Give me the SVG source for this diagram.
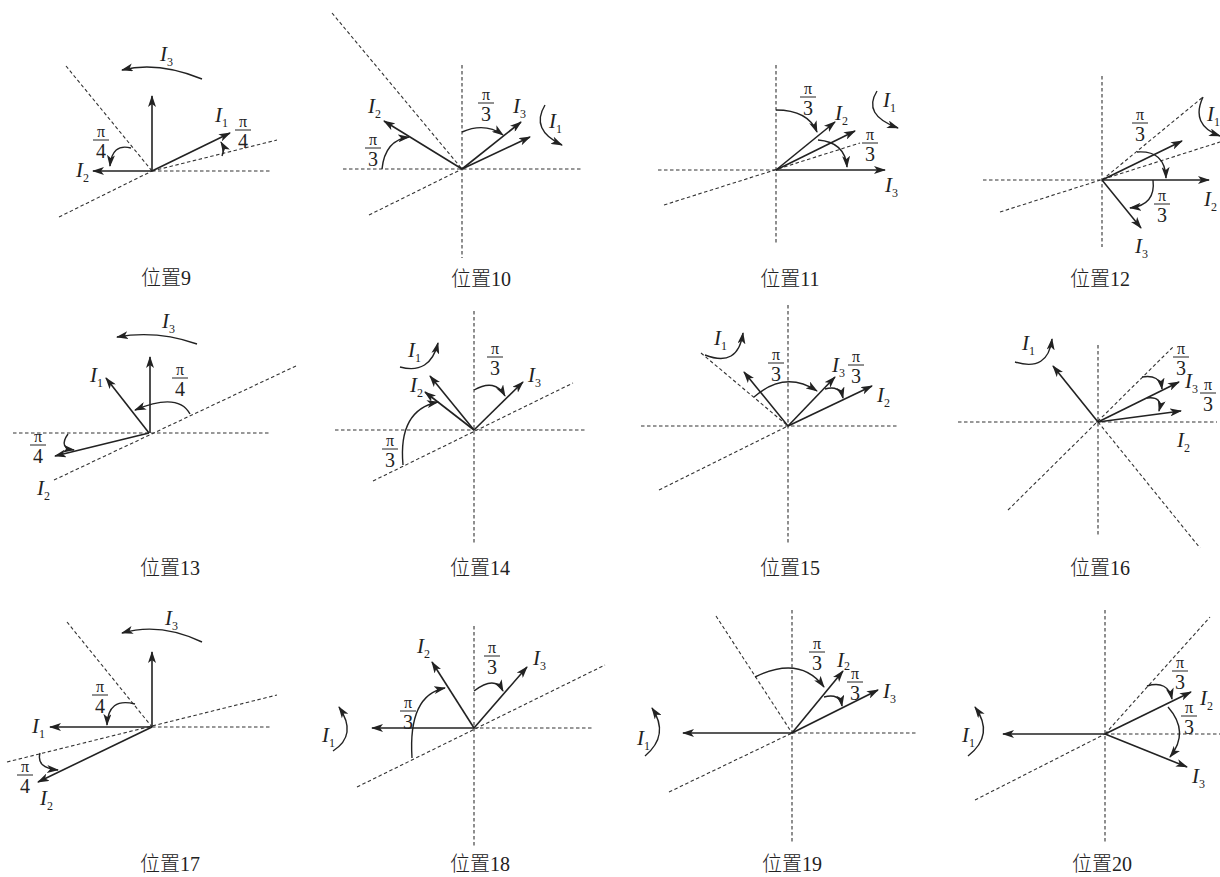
<svg xmlns="http://www.w3.org/2000/svg" width="1220" height="877" viewBox="0 0 1220 877">
<defs>
<marker id="ah" viewBox="0 0 12 8" markerWidth="12" markerHeight="8" refX="11" refY="4" orient="auto" markerUnits="userSpaceOnUse">
<path d="M0,0 L12,4 L0,8 L3,4 z" fill="#222"/>
</marker>
<style>
.d{stroke:#333;stroke-width:1.1;stroke-dasharray:3.5 2.5;fill:none}
.a{stroke:#222;stroke-width:1.6;fill:none;marker-end:url(#ah)}
.c{stroke:#222;stroke-width:1.4;fill:none;marker-end:url(#ah)}
.lb{font-family:"Liberation Serif",serif;font-style:italic;font-size:21px;fill:#222}
.sb{font-style:normal;font-size:12px}
.pi{font-family:"Liberation Serif",serif;font-size:16px;fill:#222;text-anchor:middle}
.nm{font-family:"Liberation Serif",serif;font-size:20px;fill:#222;text-anchor:middle}
.br{stroke:#222;stroke-width:1}
.cap{font-family:"Liberation Serif","Noto Sans CJK SC",serif;font-size:20px;font-weight:300;fill:#222;text-anchor:middle}
</style>
</defs>
<rect width="1220" height="877" fill="#fff"/>

<g id="p9">
<line class="d" x1="66" y1="66" x2="152" y2="171"/>
<line class="d" x1="152" y1="171" x2="271" y2="171"/>
<line class="d" x1="59" y1="217" x2="152" y2="171"/>
<line class="d" x1="152" y1="171" x2="277" y2="140"/>
<line class="a" x1="152" y1="171" x2="152" y2="96"/>
<line class="a" x1="152" y1="171" x2="230" y2="133"/>
<line class="a" x1="152" y1="171" x2="93" y2="171"/>
<path class="c" d="M202,79 Q158,61 122,70"/>
<path class="c" d="M131,148 Q112,143 110,166"/>
<path class="c" d="M222,156 Q225,149 221,142"/>
<text class="lb" x="160" y="61">I<tspan class="sb" dy="5">3</tspan></text>
<text class="lb" x="215" y="122">I<tspan class="sb" dy="5">1</tspan></text>
<text class="lb" x="76" y="177">I<tspan class="sb" dy="5">2</tspan></text>
<text class="pi" x="243" y="127">π</text><line class="br" x1="235" y1="130" x2="251" y2="130"/><text class="nm" x="243" y="148">4</text>
<text class="pi" x="101" y="137">π</text><line class="br" x1="93" y1="140" x2="109" y2="140"/><text class="nm" x="101" y="158">4</text>
<text class="cap" x="166" y="285">位置9</text>
</g>

<g id="p10">
<line class="d" x1="462" y1="65" x2="462" y2="258"/>
<line class="d" x1="343" y1="169" x2="582" y2="169"/>
<line class="d" x1="332" y1="13" x2="462" y2="169"/>
<line class="d" x1="369" y1="215" x2="462" y2="169"/>
<line class="a" x1="462" y1="169" x2="384" y2="121"/>
<line class="a" x1="462" y1="169" x2="521" y2="122"/>
<line class="a" x1="462" y1="169" x2="530" y2="137"/>
<path class="c" d="M382,169 Q385,140 409,137"/>
<path class="c" d="M462,132 Q485,122 503,135"/>
<path class="c" d="M545,105 Q530,130 562,145"/>
<text class="lb" x="368" y="113">I<tspan class="sb" dy="5">2</tspan></text>
<text class="lb" x="513" y="113">I<tspan class="sb" dy="5">3</tspan></text>
<text class="lb" x="549" y="128">I<tspan class="sb" dy="5">1</tspan></text>
<text class="pi" x="373" y="145">π</text><line class="br" x1="365" y1="148" x2="381" y2="148"/><text class="nm" x="373" y="166">3</text>
<text class="pi" x="486" y="100">π</text><line class="br" x1="478" y1="103" x2="494" y2="103"/><text class="nm" x="486" y="121">3</text>
<text class="cap" x="481" y="286">位置10</text>
</g>

<g id="p11">
<line class="d" x1="776" y1="65" x2="776" y2="245"/>
<line class="d" x1="658" y1="170" x2="776" y2="170"/>
<line class="d" x1="664" y1="205" x2="860" y2="143"/>
<line class="a" x1="776" y1="170" x2="835" y2="122"/>
<line class="a" x1="776" y1="170" x2="855" y2="131"/>
<line class="a" x1="776" y1="170" x2="885" y2="170"/>
<path class="c" d="M776,110 Q808,110 817,132"/>
<path class="c" d="M818,140 Q845,142 847,167"/>
<path class="c" d="M877,91 Q862,115 898,128"/>
<text class="lb" x="835" y="120">I<tspan class="sb" dy="5">2</tspan></text>
<text class="lb" x="883" y="107">I<tspan class="sb" dy="5">1</tspan></text>
<text class="lb" x="885" y="192">I<tspan class="sb" dy="5">3</tspan></text>
<text class="pi" x="808" y="94">π</text><line class="br" x1="800" y1="97" x2="816" y2="97"/><text class="nm" x="808" y="115">3</text>
<text class="pi" x="870" y="140">π</text><line class="br" x1="862" y1="143" x2="878" y2="143"/><text class="nm" x="870" y="161">3</text>
<text class="cap" x="790" y="286">位置11</text>
</g>

<g id="p12">
<line class="d" x1="1102" y1="76" x2="1102" y2="247"/>
<line class="d" x1="983" y1="180" x2="1102" y2="180"/>
<line class="d" x1="1000" y1="212" x2="1220" y2="142"/>
<line class="d" x1="1102" y1="180" x2="1203" y2="97"/>
<line class="a" x1="1102" y1="180" x2="1182" y2="141"/>
<line class="a" x1="1102" y1="180" x2="1209" y2="180"/>
<line class="a" x1="1102" y1="180" x2="1141" y2="228"/>
<path class="c" d="M1137,152 Q1165,150 1166,178"/>
<path class="c" d="M1153,180 Q1156,205 1130,208"/>
<path class="c" d="M1203,97 Q1190,125 1220,136"/>
<text class="lb" x="1207" y="121">I<tspan class="sb" dy="5">1</tspan></text>
<text class="lb" x="1204" y="206">I<tspan class="sb" dy="5">2</tspan></text>
<text class="lb" x="1135" y="253">I<tspan class="sb" dy="5">3</tspan></text>
<text class="pi" x="1140" y="120">π</text><line class="br" x1="1132" y1="123" x2="1148" y2="123"/><text class="nm" x="1140" y="141">3</text>
<text class="pi" x="1162" y="201">π</text><line class="br" x1="1154" y1="204" x2="1170" y2="204"/><text class="nm" x="1162" y="222">3</text>
<text class="cap" x="1100" y="286">位置12</text>
</g>

<g id="p13">
<line class="d" x1="13" y1="433" x2="269" y2="433"/>
<line class="d" x1="54" y1="480" x2="298" y2="365"/>
<line class="a" x1="150" y1="433" x2="150" y2="357"/>
<line class="a" x1="149" y1="433" x2="106" y2="378"/>
<line class="a" x1="149" y1="433" x2="55" y2="456"/>
<path class="c" d="M197,344 Q157,330 117,337"/>
<path class="c" d="M190,414 Q178,392 135,410"/>
<path class="c" d="M68,434 Q58,448 74,450"/>
<text class="lb" x="162" y="328">I<tspan class="sb" dy="5">3</tspan></text>
<text class="lb" x="90" y="382">I<tspan class="sb" dy="5">1</tspan></text>
<text class="lb" x="37" y="495">I<tspan class="sb" dy="5">2</tspan></text>
<text class="pi" x="180" y="375">π</text><line class="br" x1="172" y1="378" x2="188" y2="378"/><text class="nm" x="180" y="396">4</text>
<text class="pi" x="38" y="442">π</text><line class="br" x1="30" y1="445" x2="46" y2="445"/><text class="nm" x="38" y="463">4</text>
<text class="cap" x="170" y="575">位置13</text>
</g>

<g id="p14">
<line class="d" x1="474" y1="311" x2="474" y2="543"/>
<line class="d" x1="335" y1="430" x2="587" y2="430"/>
<line class="d" x1="373" y1="481" x2="573" y2="383"/>
<line class="a" x1="474" y1="430" x2="430" y2="376"/>
<line class="a" x1="474" y1="430" x2="425" y2="392"/>
<line class="a" x1="474" y1="430" x2="523" y2="382"/>
<path class="c" d="M474,390 Q495,378 505,396"/>
<path class="c" d="M403,465 Q398,410 438,402"/>
<path class="c" d="M400,367 Q430,375 438,343"/>
<text class="lb" x="408" y="357">I<tspan class="sb" dy="5">1</tspan></text>
<text class="lb" x="410" y="392">I<tspan class="sb" dy="5">2</tspan></text>
<text class="lb" x="528" y="382">I<tspan class="sb" dy="5">3</tspan></text>
<text class="pi" x="495" y="354">π</text><line class="br" x1="487" y1="357" x2="503" y2="357"/><text class="nm" x="495" y="375">3</text>
<text class="pi" x="390" y="446">π</text><line class="br" x1="382" y1="449" x2="398" y2="449"/><text class="nm" x="390" y="467">3</text>
<text class="cap" x="480" y="575">位置14</text>
</g>

<g id="p15">
<line class="d" x1="788" y1="305" x2="788" y2="545"/>
<line class="d" x1="641" y1="426" x2="898" y2="426"/>
<line class="d" x1="701" y1="353" x2="788" y2="426"/>
<line class="d" x1="659" y1="490" x2="788" y2="426"/>
<line class="a" x1="788" y1="426" x2="744" y2="372"/>
<line class="a" x1="788" y1="426" x2="835" y2="377"/>
<line class="a" x1="788" y1="426" x2="872" y2="386"/>
<path class="c" d="M754,397 Q785,370 817,391"/>
<path class="c" d="M825,389 Q840,385 843,398"/>
<path class="c" d="M705,355 Q738,368 743,333"/>
<text class="lb" x="714" y="345">I<tspan class="sb" dy="5">1</tspan></text>
<text class="lb" x="832" y="372">I<tspan class="sb" dy="5">3</tspan></text>
<text class="lb" x="877" y="402">I<tspan class="sb" dy="5">2</tspan></text>
<text class="pi" x="776" y="360">π</text><line class="br" x1="768" y1="363" x2="784" y2="363"/><text class="nm" x="776" y="381">3</text>
<text class="pi" x="856" y="362">π</text><line class="br" x1="848" y1="365" x2="864" y2="365"/><text class="nm" x="856" y="383">3</text>
<text class="cap" x="790" y="575">位置15</text>
</g>

<g id="p16">
<line class="d" x1="1098" y1="345" x2="1098" y2="535"/>
<line class="d" x1="958" y1="422" x2="1217" y2="422"/>
<line class="d" x1="1008" y1="510" x2="1173" y2="347"/>
<line class="d" x1="1098" y1="422" x2="1200" y2="548"/>
<line class="a" x1="1098" y1="422" x2="1053" y2="366"/>
<line class="a" x1="1098" y1="422" x2="1179" y2="382"/>
<line class="a" x1="1098" y1="422" x2="1181" y2="411"/>
<path class="c" d="M1142,377 Q1160,374 1162,389"/>
<path class="c" d="M1147,398 Q1163,396 1159,411"/>
<path class="c" d="M1015,362 Q1048,372 1052,339"/>
<text class="lb" x="1022" y="350">I<tspan class="sb" dy="5">1</tspan></text>
<text class="lb" x="1185" y="388">I<tspan class="sb" dy="5">3</tspan></text>
<text class="lb" x="1177" y="447">I<tspan class="sb" dy="5">2</tspan></text>
<text class="pi" x="1181" y="354">π</text><line class="br" x1="1173" y1="357" x2="1189" y2="357"/><text class="nm" x="1181" y="375">3</text>
<text class="pi" x="1208" y="390">π</text><line class="br" x1="1200" y1="393" x2="1216" y2="393"/><text class="nm" x="1208" y="411">3</text>
<text class="cap" x="1100" y="575">位置16</text>
</g>

<g id="p17">
<line class="d" x1="152" y1="727" x2="272" y2="727"/>
<line class="d" x1="67" y1="622" x2="152" y2="727"/>
<line class="d" x1="7" y1="762" x2="277" y2="695"/>
<line class="a" x1="152" y1="727" x2="152" y2="652"/>
<line class="a" x1="152" y1="727" x2="50" y2="727"/>
<line class="a" x1="152" y1="727" x2="38" y2="782"/>
<path class="c" d="M202,642 Q160,622 122,633"/>
<path class="c" d="M135,704 Q108,697 107,725"/>
<path class="c" d="M40,753 Q36,768 58,770"/>
<text class="lb" x="165" y="625">I<tspan class="sb" dy="5">3</tspan></text>
<text class="lb" x="32" y="733">I<tspan class="sb" dy="5">1</tspan></text>
<text class="lb" x="40" y="805">I<tspan class="sb" dy="5">2</tspan></text>
<text class="pi" x="100" y="692">π</text><line class="br" x1="92" y1="695" x2="108" y2="695"/><text class="nm" x="100" y="713">4</text>
<text class="pi" x="25" y="772">π</text><line class="br" x1="17" y1="775" x2="33" y2="775"/><text class="nm" x="25" y="793">4</text>
<text class="cap" x="170" y="871">位置17</text>
</g>

<g id="p18">
<line class="d" x1="474" y1="626" x2="474" y2="847"/>
<line class="d" x1="474" y1="728" x2="593" y2="728"/>
<line class="d" x1="357" y1="787" x2="605" y2="665"/>
<line class="a" x1="474" y1="728" x2="372" y2="728"/>
<line class="a" x1="474" y1="728" x2="432" y2="662"/>
<line class="a" x1="474" y1="728" x2="527" y2="667"/>
<path class="c" d="M474,691 Q495,675 503,691"/>
<path class="c" d="M412,758 Q408,695 445,688"/>
<path class="c" d="M333,751 Q358,735 339,707"/>
<text class="lb" x="417" y="653">I<tspan class="sb" dy="5">2</tspan></text>
<text class="lb" x="533" y="665">I<tspan class="sb" dy="5">3</tspan></text>
<text class="lb" x="322" y="742">I<tspan class="sb" dy="5">1</tspan></text>
<text class="pi" x="492" y="653">π</text><line class="br" x1="484" y1="656" x2="500" y2="656"/><text class="nm" x="492" y="674">3</text>
<text class="pi" x="408" y="708">π</text><line class="br" x1="400" y1="711" x2="416" y2="711"/><text class="nm" x="408" y="729">3</text>
<text class="cap" x="480" y="871">位置18</text>
</g>

<g id="p19">
<line class="d" x1="792" y1="610" x2="792" y2="843"/>
<line class="d" x1="792" y1="733" x2="917" y2="733"/>
<line class="d" x1="716" y1="616" x2="792" y2="733"/>
<line class="d" x1="669" y1="792" x2="792" y2="733"/>
<line class="a" x1="792" y1="733" x2="683" y2="733"/>
<line class="a" x1="792" y1="733" x2="843" y2="671"/>
<line class="a" x1="792" y1="733" x2="878" y2="690"/>
<path class="c" d="M755,677 Q800,655 824,687"/>
<path class="c" d="M824,697 Q840,693 842,706"/>
<path class="c" d="M645,756 Q670,735 652,708"/>
<text class="lb" x="837" y="667">I<tspan class="sb" dy="3">2</tspan></text>
<text class="lb" x="883" y="698">I<tspan class="sb" dy="5">3</tspan></text>
<text class="lb" x="637" y="745">I<tspan class="sb" dy="5">1</tspan></text>
<text class="pi" x="817" y="649">π</text><line class="br" x1="809" y1="652" x2="825" y2="652"/><text class="nm" x="817" y="670">3</text>
<text class="pi" x="855" y="679">π</text><line class="br" x1="847" y1="682" x2="863" y2="682"/><text class="nm" x="855" y="700">3</text>
<text class="cap" x="792" y="871">位置19</text>
</g>

<g id="p20">
<line class="d" x1="1105" y1="610" x2="1105" y2="843"/>
<line class="d" x1="1105" y1="734" x2="1222" y2="734"/>
<line class="d" x1="975" y1="800" x2="1105" y2="734"/>
<line class="d" x1="1105" y1="734" x2="1210" y2="617"/>
<line class="a" x1="1105" y1="734" x2="1003" y2="734"/>
<line class="a" x1="1105" y1="734" x2="1191" y2="692"/>
<line class="a" x1="1105" y1="734" x2="1187" y2="767"/>
<path class="c" d="M1147,686 Q1168,680 1172,699"/>
<path class="c" d="M1168,707 Q1190,732 1170,757"/>
<path class="c" d="M968,756 Q995,735 975,707"/>
<text class="lb" x="1200" y="705">I<tspan class="sb" dy="5">2</tspan></text>
<text class="lb" x="1192" y="783">I<tspan class="sb" dy="5">3</tspan></text>
<text class="lb" x="962" y="742">I<tspan class="sb" dy="5">1</tspan></text>
<text class="pi" x="1180" y="668">π</text><line class="br" x1="1172" y1="671" x2="1188" y2="671"/><text class="nm" x="1180" y="689">3</text>
<text class="pi" x="1189" y="713">π</text><line class="br" x1="1181" y1="716" x2="1197" y2="716"/><text class="nm" x="1189" y="734">3</text>
<text class="cap" x="1102" y="871">位置20</text>
</g>
</svg>
